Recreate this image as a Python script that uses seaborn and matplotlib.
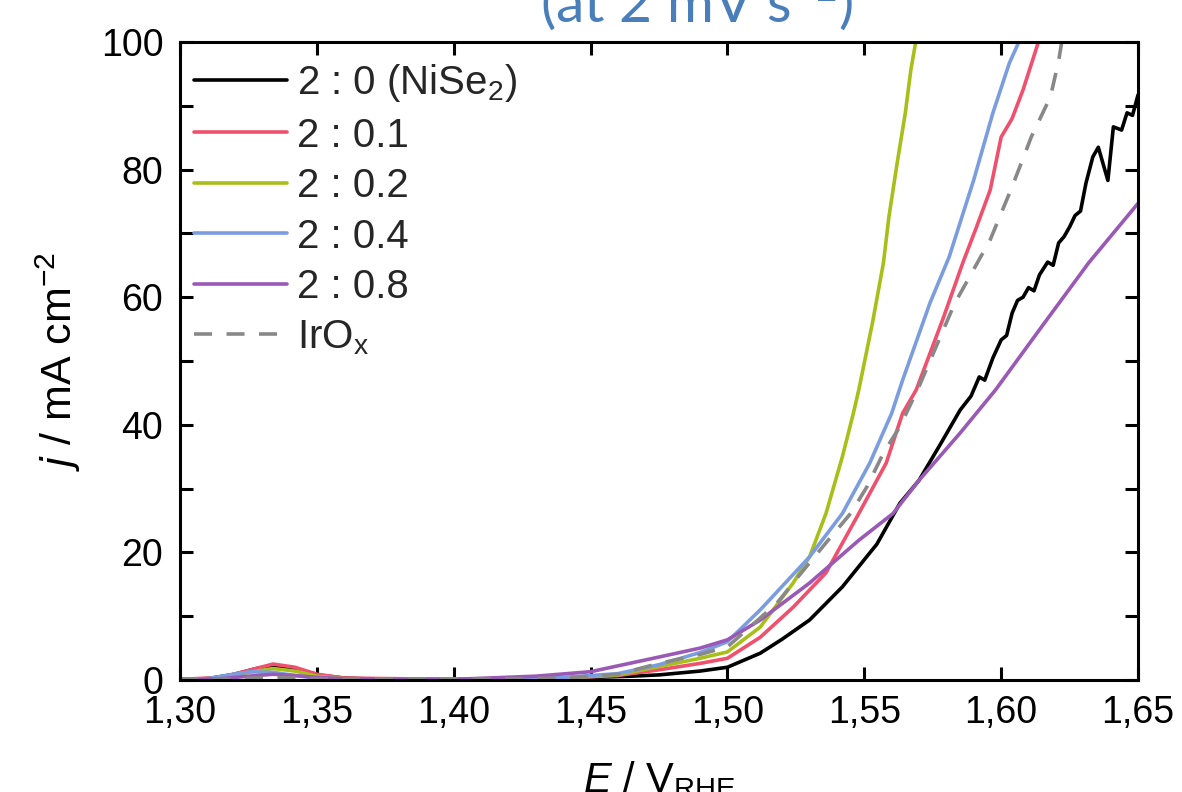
import matplotlib
matplotlib.use("Agg")
import matplotlib.pyplot as plt
from matplotlib.ticker import MultipleLocator, FixedLocator, FixedFormatter
import seaborn as sns
import pandas as pd

# Polarisation curves (E in V vs RHE, j in mA cm^-2)
E_nise2 = [1.300, 1.310, 1.320, 1.328, 1.334, 1.340, 1.346, 1.352, 1.360, 1.370, 1.400, 1.430,
           1.450, 1.465, 1.475, 1.490, 1.500, 1.512, 1.520, 1.530, 1.542, 1.5546, 1.563, 1.570,
           1.578, 1.585, 1.589, 1.592, 1.594, 1.597, 1.600, 1.602, 1.604, 1.606, 1.608, 1.610,
           1.612, 1.614, 1.617, 1.619, 1.621, 1.623, 1.625, 1.627, 1.629, 1.631, 1.6335, 1.6355,
           1.639, 1.641, 1.644, 1.646, 1.648, 1.650]
j_nise2 = [0.1, 0.2, 0.9, 1.8, 2.2, 1.9, 1.3, 0.7, 0.3, 0.15, 0.1, 0.2,
           0.4, 0.6, 0.8, 1.4, 2.0, 4.2, 6.4, 9.4, 14.6, 21.3, 27.7, 31.3,
           37.1, 42.3, 44.5, 47.5, 47.0, 50.5, 53.3, 54.0, 57.5, 59.5, 60.0, 61.5,
           61.0, 63.5, 65.5, 65.0, 68.5, 69.5, 71.0, 72.8, 73.5, 77.9, 82.0, 83.5,
           78.3, 86.7, 86.2, 88.9, 88.5, 91.7]

E_r01 = [1.300, 1.315, 1.325, 1.334, 1.342, 1.350, 1.360, 1.400, 1.440, 1.460, 1.475, 1.490,
         1.500, 1.512, 1.524, 1.536, 1.548, 1.558, 1.564, 1.569, 1.579, 1.586, 1.591, 1.596,
         1.600, 1.604, 1.608, 1.614]
j_r01 = [0.1, 0.4, 1.5, 2.5, 2.0, 0.9, 0.3, 0.1, 0.3, 0.7, 1.6, 2.6,
         3.4, 6.7, 11.4, 16.8, 26.1, 34.0, 41.8, 45.5, 56.9, 65.4, 71.0, 76.8,
         85.1, 88.0, 92.5, 100.5]

E_r02 = [1.300, 1.315, 1.325, 1.334, 1.342, 1.350, 1.360, 1.400, 1.440, 1.460, 1.475, 1.490,
         1.500, 1.512, 1.524, 1.530, 1.536, 1.542, 1.546, 1.548, 1.553, 1.557, 1.559, 1.562,
         1.565, 1.567, 1.569]
j_r02 = [0.05, 0.3, 1.2, 1.8, 1.4, 0.6, 0.2, 0.1, 0.3, 0.8, 2.1, 3.4,
         4.4, 8.3, 15.2, 19.3, 26.1, 35.0, 41.8, 45.5, 56.0, 65.4, 72.6, 81.0,
         88.9, 95.6, 100.5]

E_r04 = [1.300, 1.310, 1.318, 1.326, 1.334, 1.342, 1.350, 1.360, 1.400, 1.440, 1.460, 1.475,
         1.490, 1.500, 1.512, 1.530, 1.542, 1.552, 1.560, 1.564, 1.574, 1.581, 1.590, 1.597,
         1.603, 1.607]
j_r04 = [0.05, 0.2, 0.8, 1.3, 1.2, 0.7, 0.3, 0.15, 0.1, 0.4, 1.0, 2.4,
         4.3, 6.0, 11.0, 19.3, 26.1, 34.0, 41.8, 47.0, 59.1, 66.3, 78.4, 88.9,
         96.7, 100.5]

E_r08 = [1.300, 1.315, 1.325, 1.334, 1.342, 1.350, 1.360, 1.400, 1.430, 1.450, 1.475, 1.490,
         1.500, 1.512, 1.530, 1.548, 1.5605, 1.570, 1.585, 1.598, 1.614, 1.632, 1.650]
j_r08 = [0.05, 0.2, 0.6, 0.9, 0.7, 0.4, 0.2, 0.1, 0.6, 1.3, 3.6, 5.0,
         6.3, 9.4, 15.2, 21.9, 26.1, 31.3, 38.7, 45.5, 54.9, 65.4, 74.7]

E_irox = [1.300, 1.320, 1.334, 1.350, 1.400, 1.440, 1.460, 1.475, 1.490, 1.500, 1.518, 1.527,
          1.536, 1.545, 1.551, 1.557, 1.563, 1.570, 1.583, 1.596, 1.604, 1.611, 1.618, 1.621,
          1.6225]
j_irox = [0.05, 0.2, 0.4, 0.2, 0.1, 0.3, 0.9, 2.6, 4.0, 5.2, 12.0, 16.8,
          21.5, 26.1, 30.3, 35.6, 39.7, 46.0, 59.0, 69.0, 77.3, 85.1, 91.4, 97.0,
          101.0]

labels = [r"2 : 0 (NiSe$_2$)", "2 : 0.1", "2 : 0.2", "2 : 0.4", "2 : 0.8", r"IrO$_\mathregular{x}$"]
colors = ["#000000", "#F0506E", "#A8BF1A", "#7B9DE0", "#9B59B6", "#888888"]

x_ticks = [1.30, 1.35, 1.40, 1.45, 1.50, 1.55, 1.60, 1.65]
x_tick_labels = ["1,30", "1,35", "1,40", "1,45", "1,50", "1,55", "1,60", "1,65"]
y_ticks = [0, 20, 40, 60, 80, 100]

series = [(E_nise2, j_nise2), (E_r01, j_r01), (E_r02, j_r02),
          (E_r04, j_r04), (E_r08, j_r08), (E_irox, j_irox)]

sns.set_theme(style="ticks")
plt.rcParams["font.family"] = ["Liberation Sans", "DejaVu Sans"]
plt.rcParams["mathtext.fontset"] = "custom"
plt.rcParams["mathtext.rm"] = "Liberation Sans"
plt.rcParams["mathtext.it"] = "Liberation Sans:italic"
plt.rcParams["mathtext.bf"] = "Liberation Sans:bold"

fig = plt.figure(figsize=(11.82, 7.92), dpi=100)
fig.patch.set_facecolor("white")
ax = fig.add_axes([180 / 1182, 1 - 680 / 792, 958 / 1182, 638 / 792])

for (E, j), lab, col in zip(series, labels, colors):
    df = pd.DataFrame({"E": E, "j": j})
    dashed = lab.startswith("IrO")
    sns.lineplot(data=df, x="E", y="j", ax=ax, color=col, linewidth=2.6,
                 label=lab, linestyle=(0, (5, 4)) if dashed else "-",
                 errorbar=None)

ax.set_xlim(1.30, 1.65)
ax.set_ylim(0, 100)
ax.xaxis.set_major_locator(FixedLocator(x_ticks))
ax.xaxis.set_major_formatter(FixedFormatter(x_tick_labels))
ax.yaxis.set_major_locator(FixedLocator(y_ticks))
ax.yaxis.set_minor_locator(MultipleLocator(10))

for s in ax.spines.values():
    s.set_linewidth(2.2)
    s.set_color("black")
ax.tick_params(which="both", direction="in", top=True, right=True,
               length=9.5, width=2.2, color="black")
ax.tick_params(axis="both", which="major", labelsize=27, labelcolor="black")
ax.tick_params(axis="x", pad=11)
ax.tick_params(axis="y", pad=12)

ax.set_xlabel(r"$\mathit{E}$ / V$_\mathregular{RHE}$", fontsize=30, labelpad=20, color="black")
ax.set_ylabel(r"$\mathit{j}$ / mA cm$^{-2}$", fontsize=31, labelpad=13, color="black")

leg = ax.legend(loc="upper left", bbox_to_anchor=(0.0, 1.0 - 6 / 638), frameon=False,
                fontsize=29, handlelength=2.3, handletextpad=0.25, labelspacing=0.31,
                borderaxespad=0.2, borderpad=0.15)

fig.text(697 / 1182, 1 - 22 / 792, r"(at 2 mV s$^{-1}$)", ha="center", va="baseline",
         fontsize=41, color="#4A7EBB", family=["Lato", "DejaVu Sans"])

fig.savefig("out.png", dpi=100, facecolor="white")
